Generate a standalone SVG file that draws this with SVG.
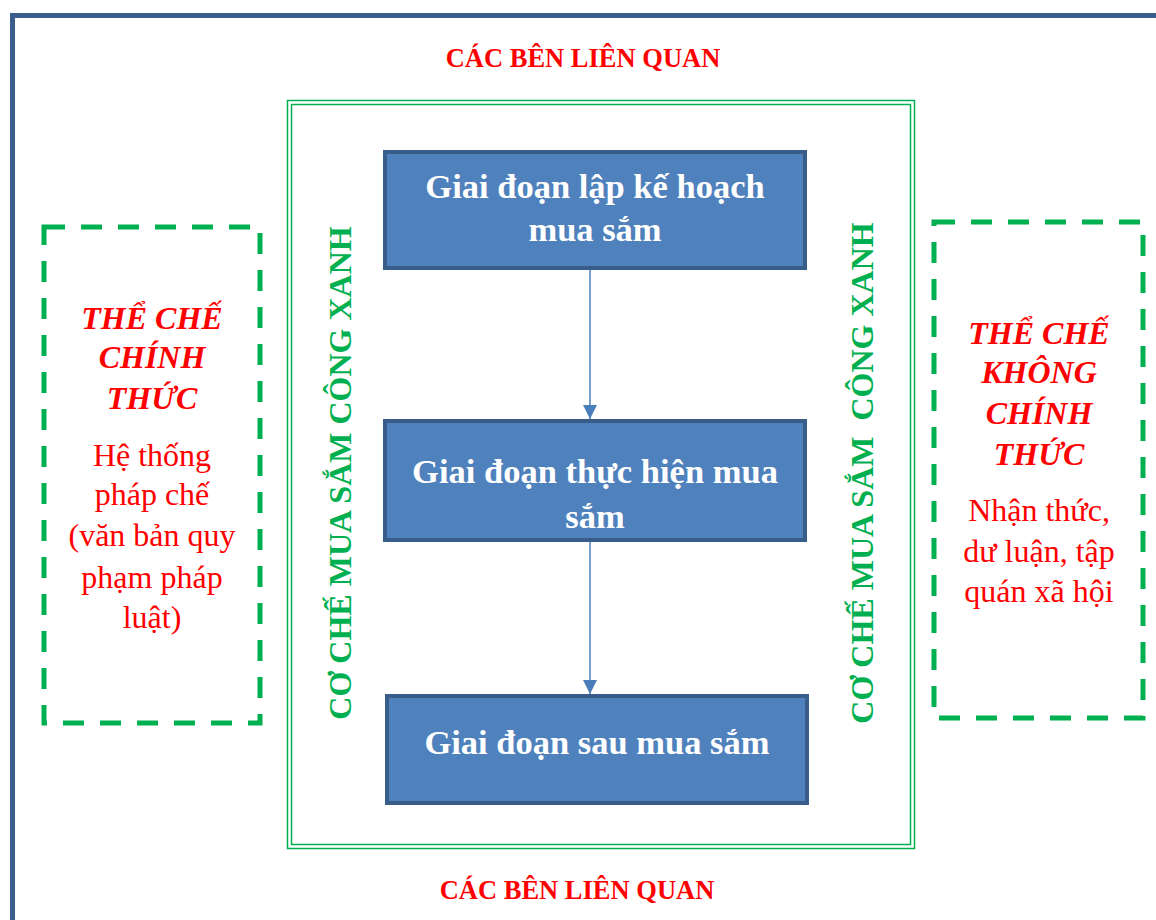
<svg xmlns="http://www.w3.org/2000/svg" width="1156" height="920" viewBox="0 0 1156 920">
<style>
.box{fill:#4f81bd;stroke:#385d8a;stroke-width:4}
.bt{font-family:"Liberation Serif",serif;font-weight:bold;font-size:34.5px;fill:#fff;text-anchor:middle}
.red{font-family:"Liberation Serif",serif;font-weight:bold;font-size:26.5px;fill:#ff0000;text-anchor:middle}
.rh{font-family:"Liberation Serif",serif;font-weight:bold;font-style:italic;font-size:32px;fill:#ff0000;text-anchor:middle}
.rt{font-family:"Liberation Serif",serif;font-size:32px;fill:#ff0000;text-anchor:middle}
.vt{font-family:"Liberation Serif",serif;font-weight:bold;font-size:32px;fill:#00b050;text-anchor:middle;white-space:pre}
.dash{fill:none;stroke:#00b050;stroke-width:5;stroke-dasharray:21 16}
.conn{stroke:#4a7ebb;stroke-width:1.5;fill:none}
</style>
<defs>
<marker id="ah" markerWidth="16" markerHeight="16" refX="14" refY="8" orient="auto" markerUnits="userSpaceOnUse" viewBox="0 0 16 16">
<path d="M0,1 L14,8 L0,15 Z" fill="#4a7ebb"/>
</marker>
</defs>
<rect width="1156" height="920" fill="#fff"/>
<path d="M12.5,920 V15.5 H1156" fill="none" stroke="#3a5f8d" stroke-width="5"/>
<g id="stakeholders-top"><text class="red" x="583" y="67">CÁC BÊN LIÊN QUAN</text></g>
<g id="stakeholders-bottom"><text class="red" x="577" y="899">CÁC BÊN LIÊN QUAN</text></g>
<g id="mechanism-frame">
<rect x="287.5" y="100.5" width="627" height="748" fill="none" stroke="#00b050" stroke-width="1.5"/>
<rect x="291.5" y="104.5" width="619" height="740" fill="none" stroke="#00b050" stroke-width="1.5"/>
</g>
<g id="mechanism-left"><text class="vt" transform="translate(351 473) rotate(-90)">CƠ CHẾ MUA SẮM CÔNG XANH</text></g>
<g id="mechanism-right"><text class="vt" transform="translate(873 473) rotate(-90)">CƠ CHẾ MUA SẮM  CÔNG XANH</text></g>
<g id="connectors">
<line class="conn" x1="590" y1="270" x2="590" y2="419" marker-end="url(#ah)"/>
<line class="conn" x1="590" y1="542" x2="590" y2="694" marker-end="url(#ah)"/>
</g>
<g id="stage-planning">
<rect class="box" x="385" y="152" width="420" height="116"/>
<text class="bt" x="595" y="198">Giai đoạn lập kế hoạch</text>
<text class="bt" x="595" y="241">mua sắm</text>
</g>
<g id="stage-implementation">
<rect class="box" x="385" y="421" width="420" height="119"/>
<text class="bt" x="595" y="483">Giai đoạn thực hiện mua</text>
<text class="bt" x="595" y="528">sắm</text>
</g>
<g id="stage-post">
<rect class="box" x="387" y="696" width="420" height="107"/>
<text class="bt" x="597" y="754">Giai đoạn sau mua sắm</text>
</g>
<g id="formal-institution">
<rect class="dash" x="44" y="227" width="216" height="496"/>
<text class="rh" x="152" y="329">THỂ CHẾ</text>
<text class="rh" x="152" y="368">CHÍNH</text>
<text class="rh" x="152" y="409">THỨC</text>
<text class="rt" x="152" y="466">Hệ thống</text>
<text class="rt" x="152" y="505">pháp chế</text>
<text class="rt" x="152" y="546">(văn bản quy</text>
<text class="rt" x="152" y="588">phạm pháp</text>
<text class="rt" x="152" y="628">luật)</text>
</g>
<g id="informal-institution">
<rect class="dash" x="934" y="222" width="209" height="496"/>
<text class="rh" x="1039" y="344">THỂ CHẾ</text>
<text class="rh" x="1039" y="383">KHÔNG</text>
<text class="rh" x="1039" y="424">CHÍNH</text>
<text class="rh" x="1039" y="465">THỨC</text>
<text class="rt" x="1039" y="521">Nhận thức,</text>
<text class="rt" x="1039" y="562">dư luận, tập</text>
<text class="rt" x="1039" y="602">quán xã hội</text>
</g>
</svg>
